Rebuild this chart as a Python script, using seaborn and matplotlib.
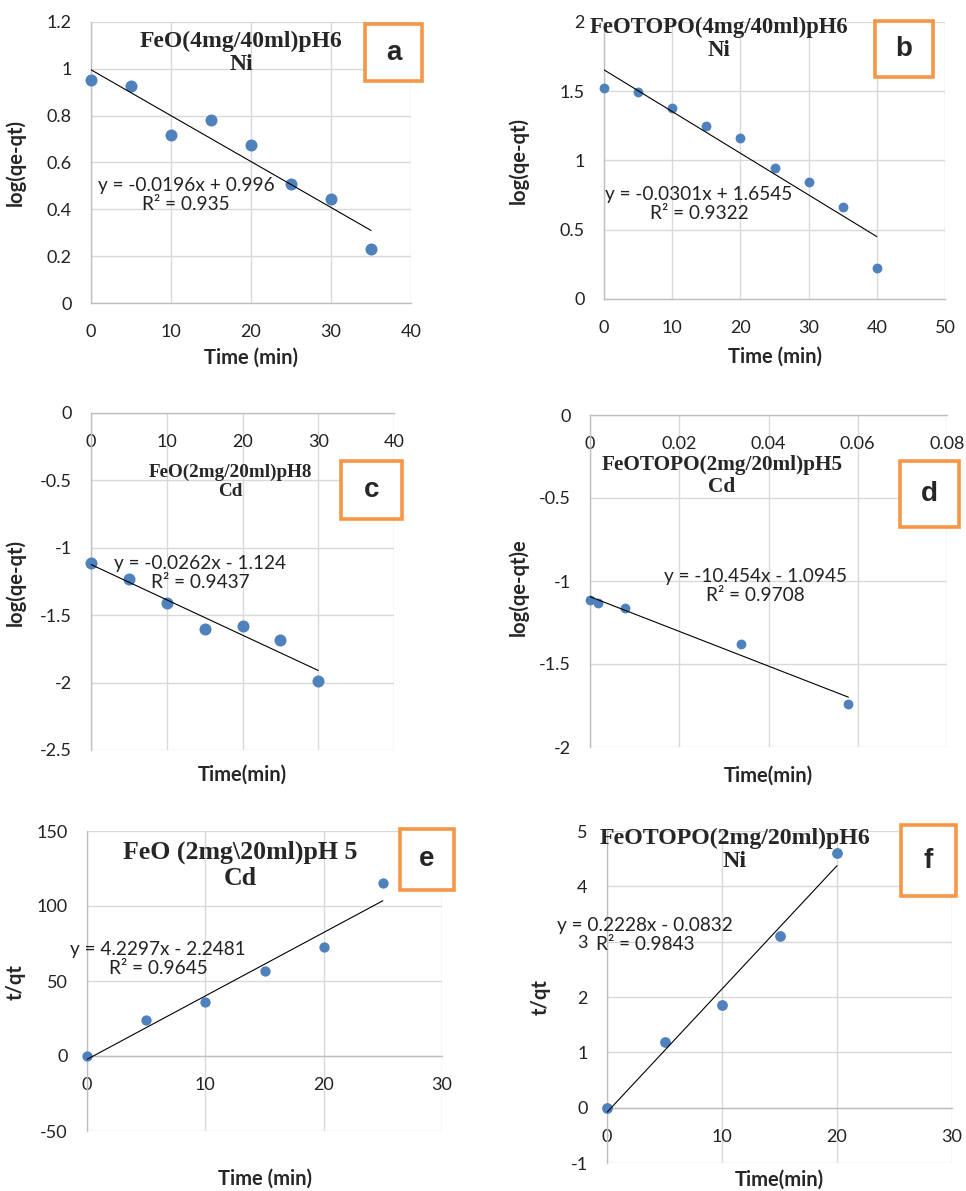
import matplotlib
matplotlib.use("Agg")
import matplotlib.pyplot as plt
from matplotlib.patches import Rectangle
from matplotlib.ticker import FuncFormatter, MultipleLocator
import seaborn as sns
import numpy as np

# ---------------- data ----------------
a_time = [0, 5, 10, 15, 20, 25, 30, 35]
a_val = [0.951, 0.925, 0.719, 0.783, 0.673, 0.508, 0.443, 0.229]
a_fit = [-0.0196, 0.996]

b_time = [0, 5, 10, 15, 20, 25, 30, 35, 40]
b_val = [1.520, 1.496, 1.381, 1.249, 1.164, 0.944, 0.848, 0.665, 0.223]
b_fit = [-0.0301, 1.6545]

c_time = [0, 5, 10, 15, 20, 25, 30]
c_val = [-1.111, -1.235, -1.411, -1.604, -1.579, -1.681, -1.985]
c_fit = [-0.0262, -1.124]

d_time = [0.0, 0.0019, 0.0079, 0.0339, 0.0579]
d_val = [-1.117, -1.133, -1.165, -1.378, -1.743]
d_fit = [-10.454, -1.0945]

e_time = [0, 5, 10, 15, 20, 25]
e_val = [0.0, 24.0, 36.2, 56.9, 72.7, 115.1]
e_fit = [4.2297, -2.2481]

f_time = [0, 5, 10, 15, 20]
f_val = [0.0, 1.183, 1.849, 3.103, 4.610]
f_fit = [0.2228, -0.0832]

titles = ["FeO(4mg/40ml)pH6\nNi", "FeOTOPO(4mg/40ml)pH6\nNi",
          "FeO(2mg/20ml)pH8\nCd", "FeOTOPO(2mg/20ml)pH5\nCd",
          "FeO (2mg\\20ml)pH 5\nCd", "FeOTOPO(2mg/20ml)pH6\nNi"]
equations = ["y = -0.0196x + 0.996\nR² = 0.935",
             "y = -0.0301x + 1.6545\nR² = 0.9322",
             "y = -0.0262x - 1.124\nR² = 0.9437",
             "y = -10.454x - 1.0945\nR² = 0.9708",
             "y = 4.2297x - 2.2481\nR² = 0.9645",
             "y = 0.2228x - 0.0832\nR² = 0.9843"]
xlabels = ["Time (min)", "Time (min)", "Time(min)", "Time(min)", "Time (min)", "Time(min)"]
ylabels = ["log(qe-qt)", "log(qe-qt)", "log(qe-qt)", "log(qe-qt)e", "t/qt", "t/qt"]
letters = ["a", "b", "c", "d", "e", "f"]

# ---------------- style ----------------
sns.set_style("white")
plt.rcParams["font.family"] = ["Lato", "DejaVu Sans"]

W, H = 966, 1191
fig = plt.figure(figsize=(W / 100, H / 100), dpi=100)

DOT = "#4F81BD"
GRID = "#D9D9D9"
AXL = "#BFBFBF"
ORANGE = "#F79646"


def px_axes(l, r, t, b):
    return fig.add_axes([l / W, 1 - b / H, (r - l) / W, (b - t) / H])


def fmt(v, pos):
    s = "{:.2f}".format(v).rstrip("0").rstrip(".")
    if s in ("-0", ""):
        s = "0"
    return s


panels = [
    dict(box=(91, 411, 22, 303), x=a_time, y=a_val, fit=a_fit, xlim=(0, 40), xs=10,
         ylim=(0, 1.2), ys=0.2, s=75, xl=(0.5, -0.160), yl=(-0.203, 0.5),
         title=(241, 53, 17), eq=(186, 195), lb=(365, 422, 24, 81)),
    dict(box=(604, 945, 22, 299), x=b_time, y=b_val, fit=b_fit, xlim=(0, 50), xs=10,
         ylim=(0, 2), ys=0.5, s=50, xl=(0.5, -0.173), yl=(-0.220, 0.5),
         title=(719, 39, 16.4), eq=(699, 204), lb=(875, 933, 21, 77)),
    dict(box=(91, 394, 413, 750), x=c_time, y=c_val, fit=c_fit, xlim=(0, 40), xs=10,
         ylim=(-2.5, 0), ys=0.5, s=75, xl=(0.5, -0.044), yl=(-0.214, 0.496),
         title=(230, 482, 13.8), eq=(200, 573), lb=(341, 402, 461, 519)),
    dict(box=(590, 947, 415, 747), x=d_time, y=d_val, fit=d_fit, xlim=(0, 0.08), xs=0.02,
         ylim=(-2, 0), ys=0.5, s=50, xl=(0.5, -0.057), yl=(-0.171, 0.482),
         title=(722, 476, 15.3), eq=(755, 586), lb=(900, 959, 461, 527)),
    dict(box=(87, 442, 831, 1131), x=e_time, y=e_val, fit=e_fit, xlim=(0, 30), xs=10,
         ylim=(-50, 150), ys=50, s=55, xl=(0.5, -0.124), yl=(-0.172, 0.497),
         title=(240, 865, 18.6), eq=(158, 959), lb=(400, 454, 829, 890)),
    dict(box=(607, 952, 831, 1163), x=f_time, y=f_val, fit=f_fit, xlim=(0, 30), xs=10,
         ylim=(-1, 5), ys=1, s=60, xl=(0.5, -0.021), yl=(-0.162, 0.5),
         title=(735, 850, 17.2), eq=(645, 935), lb=(901, 956, 825, 896)),
]

for i, p in enumerate(panels):
    ax = px_axes(*p["box"])
    ax.set_facecolor("white")
    sns.scatterplot(x=p["x"], y=p["y"], ax=ax, s=p["s"], color=DOT, linewidth=0,
                    zorder=3, clip_on=False)
    x0, x1 = min(p["x"]), max(p["x"])
    slope, icpt = p["fit"]
    sns.lineplot(x=[x0, x1], y=[slope * x0 + icpt, slope * x1 + icpt], ax=ax,
                 color="black", linewidth=0.8, zorder=4)
    ax.set_xlim(*p["xlim"])
    ax.set_ylim(*p["ylim"])
    ax.xaxis.set_major_locator(MultipleLocator(p["xs"]))
    ax.yaxis.set_major_locator(MultipleLocator(p["ys"]))
    ax.xaxis.set_major_formatter(FuncFormatter(fmt))
    ax.yaxis.set_major_formatter(FuncFormatter(fmt))
    ax.grid(True, color=GRID, linewidth=1)
    ax.set_axisbelow(True)
    for sp in ("top", "right"):
        ax.spines[sp].set_visible(False)
    ax.spines["bottom"].set_position(("data", 0))
    ax.spines["bottom"].set_color(AXL)
    ax.spines["left"].set_color(AXL)
    ax.spines["bottom"].set_linewidth(1)
    ax.spines["left"].set_linewidth(1)
    ax.tick_params(axis="x", length=0, pad=15, labelsize=13, labelcolor="#222222")
    ax.tick_params(axis="y", length=0, pad=14, labelsize=13, labelcolor="#222222")
    ax.set_xlabel(xlabels[i], fontsize=14.5, fontweight="bold")
    ax.set_ylabel(ylabels[i], fontsize=14.5, fontweight="bold")
    ax.xaxis.set_label_coords(*p["xl"])
    ax.yaxis.set_label_coords(*p["yl"])

    tx, ty, tsz = p["title"]
    fig.text(tx / W, 1 - ty / H, titles[i], ha="center", va="center",
             family="Liberation Serif", fontweight="bold", fontsize=tsz,
             linespacing=1.15)
    ex, ey = p["eq"]
    fig.text(ex / W, 1 - ey / H, equations[i], ha="center", va="center",
             fontsize=13.7, linespacing=1.2, color="#222222")
    bx0, bx1, by0, by1 = p["lb"]
    fig.patches.append(Rectangle((bx0 / W, 1 - by1 / H), (bx1 - bx0) / W, (by1 - by0) / H,
                                 transform=fig.transFigure, fill=True, facecolor="white",
                                 edgecolor=ORANGE, linewidth=2.6, zorder=10))
    fig.text((bx0 + bx1) / 2 / W, 1 - (by0 + by1) / 2 / H, letters[i], ha="center",
             va="center", family="Liberation Sans", fontweight="bold", fontsize=20,
             zorder=11)

fig.savefig("out.png", dpi=100, facecolor="white")
